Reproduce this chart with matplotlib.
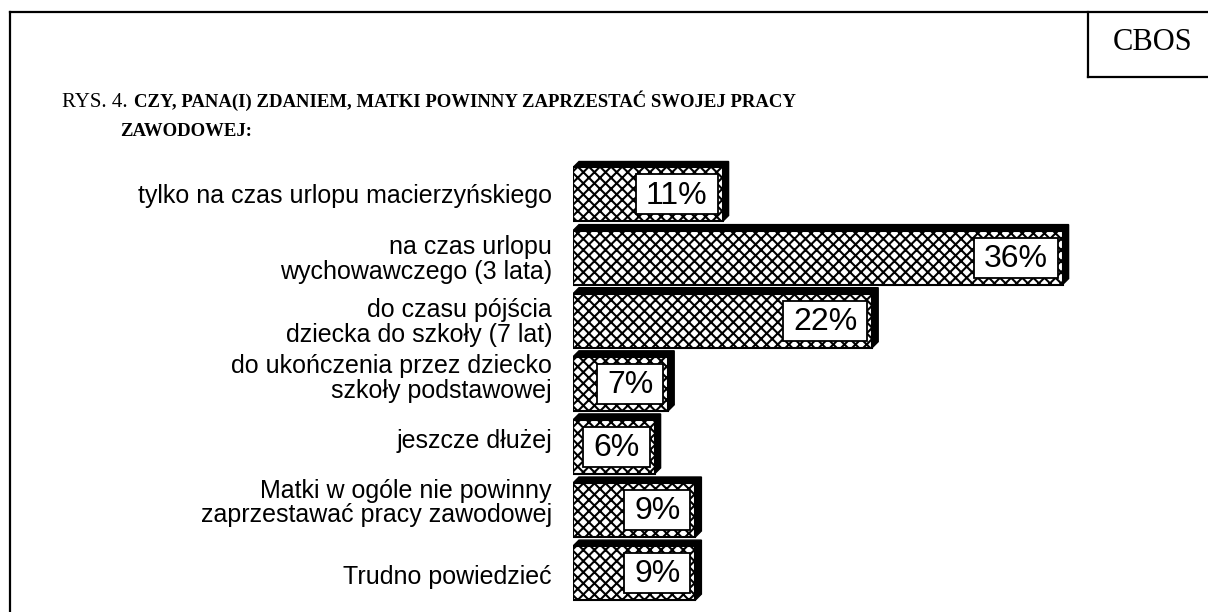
import matplotlib
matplotlib.use("Agg")
import matplotlib.pyplot as plt
from matplotlib.patches import Rectangle, Polygon
from matplotlib.lines import Line2D

categories = [
    "tylko na czas urlopu macierzyńskiego",
    "na czas urlopu\nwychowawczego (3 lata)",
    "do czasu pójścia\ndziecka do szkoły (7 lat)",
    "do ukończenia przez dziecko\nszkoły podstawowej",
    "jeszcze dłużej",
    "Matki w ogóle nie powinny\nzaprzestawać pracy zawodowej",
    "Trudno powiedzieć",
]
values = [11, 36, 22, 7, 6, 9, 9]
value_labels = ["11%", "36%", "22%", "7%", "6%", "9%", "9%"]
title_prefix = "RYS. 4."
title_line1 = "CZY, PANA(I) ZDANIEM, MATKI POWINNY ZAPRZESTAĆ SWOJEJ PRACY"
title_line2 = "ZAWODOWEJ:"
brand = "CBOS"

W, H = 1208, 612
plt.rcParams['hatch.linewidth'] = 1.5
fig = plt.figure(figsize=(W / 100, H / 100), dpi=100)

# geometry in pixels
px_per_pct = 13.6
x0_px = 573
pitch = 63.1
c0 = 194.5
ax_top_px = 150
ax = fig.add_axes([x0_px / W, 0, 544 / W, (H - ax_top_px) / H])
ax.set_xlim(0, 544 / px_per_pct)
ax.set_ylim((H - c0) / pitch, (ax_top_px - c0) / pitch)
ax.axis("off")

h = 54 / pitch
dx = 6 / px_per_pct
dy = 6 / pitch
box_h = 40 / pitch
box_pad_px = 10
box_gap_px = 5
label_shift_px = [2, 2, 2, -5, -6, -7, 4]

value_texts = []
for i, (v, lab, vl) in enumerate(zip(values, categories, value_labels)):
    yt = i - h / 2
    yb = i + h / 2
    ext = Polygon([(0, yt), (dx, yt - dy), (v + dx, yt - dy), (v + dx, yb - dy),
                   (v, yb), (v, yt)], closed=True, facecolor="black",
                  edgecolor="black", lw=1)
    ax.add_patch(ext)
    front = Rectangle((0, yt), v, h, facecolor="white", edgecolor="black",
                      hatch="xxx", lw=1.5)
    ax.add_patch(front)
    t = ax.text(0, i + 0.02, vl, ha="center", va="center",
                fontsize=23, family="Liberation Sans", zorder=5)
    value_texts.append(t)
    ax.text(-21 / px_per_pct, i + label_shift_px[i] / pitch, lab, ha="right",
            va="center", multialignment="right", fontsize=18,
            family="Liberation Sans", linespacing=1.05, clip_on=False)

fig.canvas.draw()
renderer = fig.canvas.get_renderer()
for i, (v, t) in enumerate(zip(values, value_texts)):
    wpx = t.get_window_extent(renderer).width
    bw = (wpx + 2 * box_pad_px) / px_per_pct
    right = v - box_gap_px / px_per_pct
    left = right - bw
    ax.add_patch(Rectangle((left, i - box_h / 2), bw, box_h, facecolor="white",
                           edgecolor="black", lw=1.3, zorder=4))
    t.set_x((left + right) / 2)

# frame lines (figure pixel coords -> fraction)
def fx(x):
    return x / W

def fy(y):
    return 1 - y / H

lw = 1.6
fig.add_artist(Line2D([fx(10), fx(10)], [fy(12), fy(612)], color="black", lw=lw))
fig.add_artist(Line2D([fx(10), fx(1208)], [fy(12), fy(12)], color="black", lw=lw))
fig.add_artist(Line2D([fx(1088), fx(1088)], [fy(12), fy(77)], color="black", lw=lw))
fig.add_artist(Line2D([fx(1088), fx(1208)], [fy(77), fy(77)], color="black", lw=lw))

fig.text(fx(1153), fy(43), brand, ha="center", va="center", fontsize=22,
         family="Liberation Serif")

fig.text(fx(62), fy(107), title_prefix, ha="left", va="baseline", fontsize=15,
         family="Liberation Serif")
fig.text(fx(134), fy(107), title_line1, ha="left", va="baseline", fontsize=13.5,
         family="Liberation Serif", fontweight="bold")
fig.text(fx(120), fy(136), title_line2, ha="left", va="baseline", fontsize=13.5,
         family="Liberation Serif", fontweight="bold")

fig.savefig("out.png", dpi=100)
